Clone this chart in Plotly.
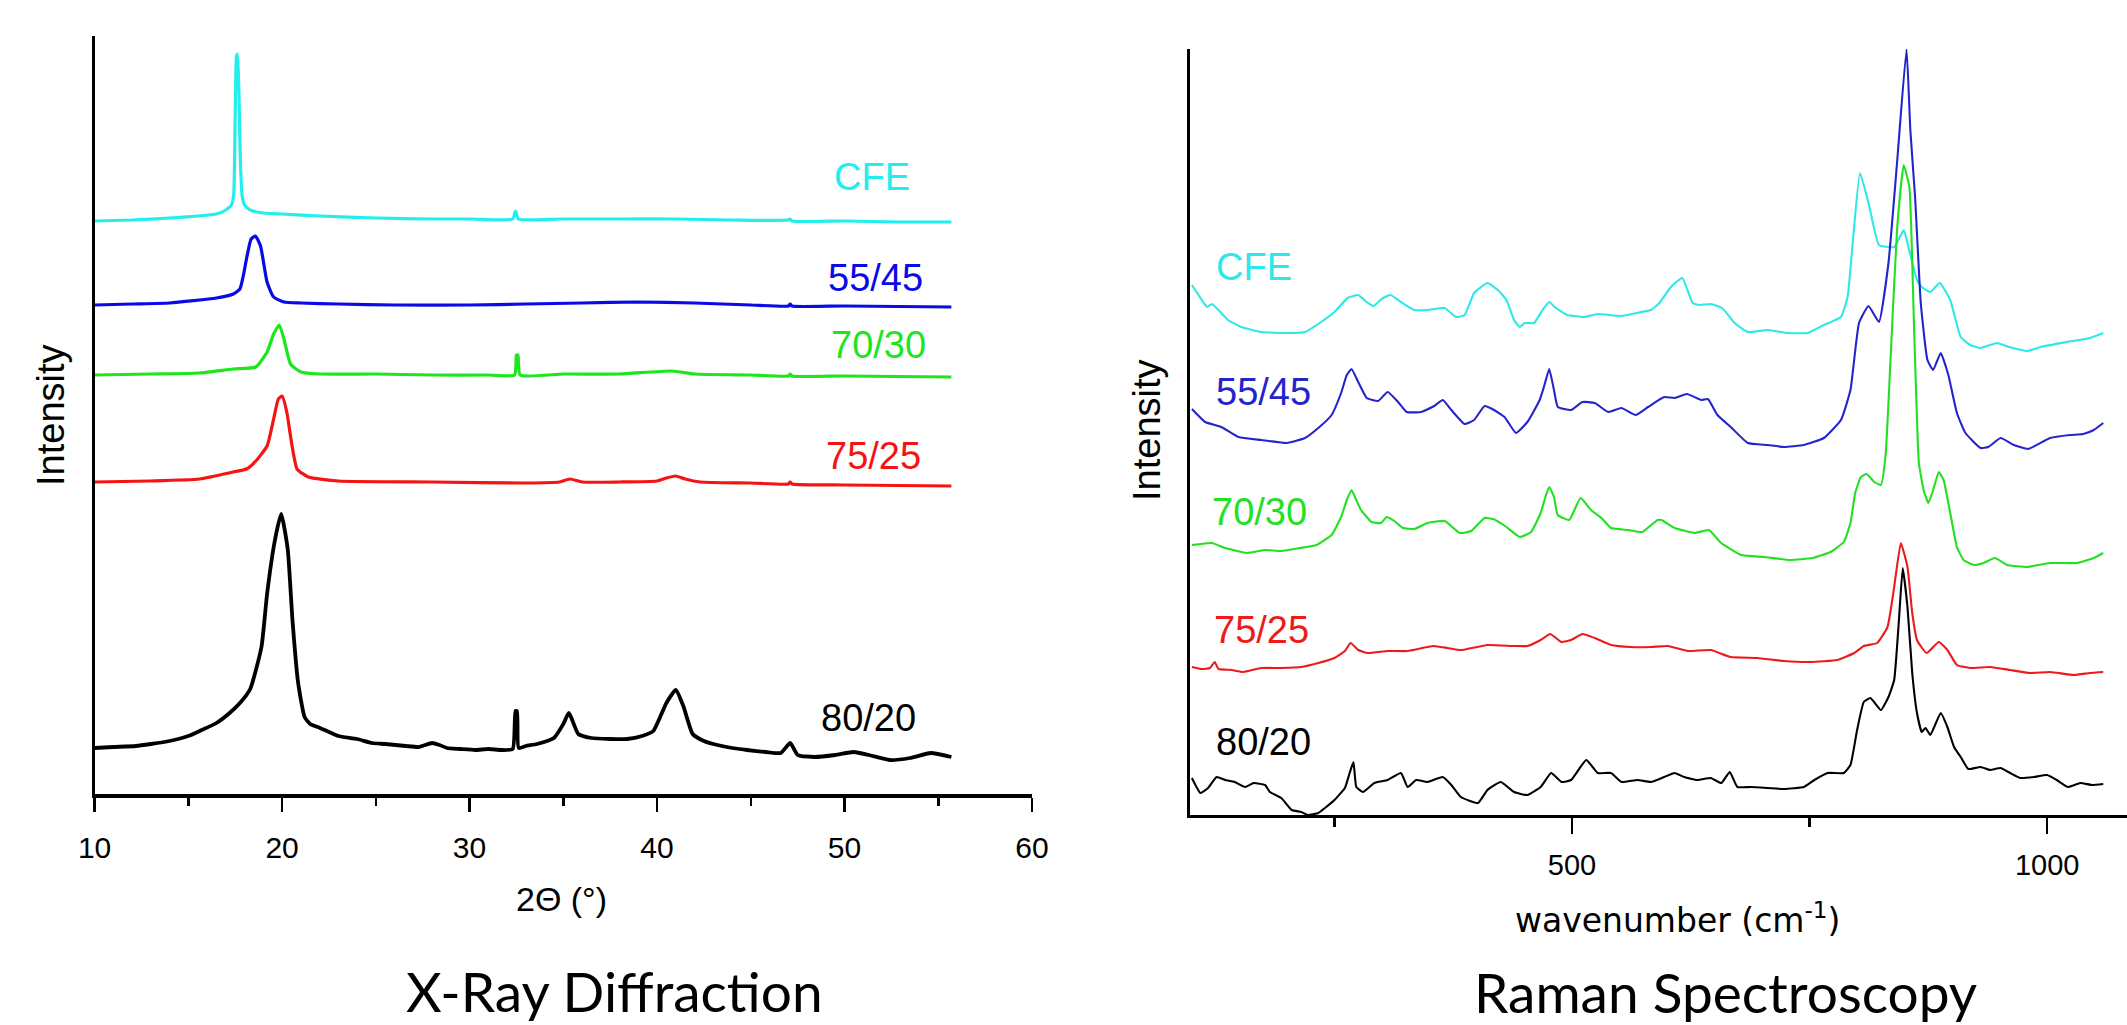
import plotly.graph_objects as go

# ---------------- X-Ray Diffraction data (2theta in degrees, intensity a.u. with offsets) ----------------
xrd_cfe_x = [10, 12, 14, 15.5, 16.5, 17.0, 17.3, 17.42, 17.5, 17.57, 17.62, 17.7, 17.78, 17.88, 18.0, 18.3, 19, 20, 22, 25, 28, 30,
             32.3, 32.45, 32.6, 35, 38, 41, 44, 47, 47.1, 47.2, 50, 53, 55.7]
xrd_cfe_y = [573, 574, 576, 578, 580, 584, 589, 600, 680, 738, 740, 700, 630, 597, 589, 584, 581, 580, 578, 576, 575, 575,
             575, 583, 575, 575, 575, 575, 574, 574, 575, 573, 573, 572, 572]

xrd_5545_x = [10, 12, 14, 16.5, 17.4, 17.75, 17.95, 18.1, 18.35, 18.58, 18.85, 19.2, 19.55, 20.1, 21, 23, 26, 30, 33, 36, 39, 42,
              45, 47, 47.1, 47.2, 50, 55.7]
xrd_5545_y = [489, 490, 491, 496, 500, 505, 520, 535, 555, 558, 548, 512, 497, 492, 491, 490, 489, 489, 490, 491, 492, 491,
              489, 488, 490, 488, 488, 487]

xrd_7030_x = [10, 13, 15.6, 17.4, 18.6, 19.2, 19.55, 19.85, 20.1, 20.45, 21, 22, 25, 28, 31, 32.4, 32.5, 32.58, 32.7, 35, 38,
              40.8, 42, 45, 47, 47.1, 47.2, 50, 55.7]
xrd_7030_y = [419, 420, 421, 425, 427, 442, 460, 469, 455, 430, 422, 420, 420, 419, 419, 419, 439, 439, 419, 420, 420,
              423, 420, 419, 418, 420, 418, 418, 417]

xrd_7525_x = [10, 13, 15.6, 17.4, 18.1, 18.6, 19.2, 19.55, 19.8, 20.0, 20.25, 20.5, 20.8, 21.4, 23, 28, 33, 34.8, 35.35, 36, 38,
              40, 40.5, 41.0, 41.5, 42.3, 45, 47, 47.1, 47.2, 50, 55.7]
xrd_7525_y = [312, 313, 315, 322, 325, 333, 348, 375, 395, 398, 382, 352, 325, 317, 313, 312, 311, 312, 315, 312, 312,
              313, 316, 318, 315, 312, 311, 310, 312, 310, 309, 308]

xrd_8020_x = [10, 11, 12.2, 13, 14, 15, 15.6, 16.5, 17.2, 17.8, 18.3, 18.9, 19.2, 19.6, 19.95, 20.3, 20.55, 20.85, 21.2, 21.5,
              21.9, 22.5, 23, 24, 24.8, 25.5, 26.6, 27.3, 28, 28.4, 28.8, 29.5, 30.3, 31, 31.7, 32.3, 32.45, 32.53, 32.62,
              33, 33.6, 34.5, 35.0, 35.3, 35.8, 36.5, 37.5, 38.4, 39.2, 39.8, 40.5, 41.0, 41.4, 41.9, 42.5, 43, 44, 44.8,
              45.8, 46.6, 47.1, 47.5, 48.4, 49.5, 50.5, 51.3, 52.4, 53.5, 54.6, 55.7]
xrd_8020_y = [46, 47, 48, 50, 53, 58, 63, 71, 81, 92, 105, 147, 200, 252, 280, 245, 175, 112, 77, 70,
              67, 62, 58, 55, 51, 50, 48, 47, 51, 49, 46, 45, 44, 45, 44, 45, 83, 83, 46,
              48, 50, 56, 70, 81, 60, 56, 55, 55, 58, 63, 91, 104, 88, 60, 53, 50, 46, 44,
              42, 41, 51, 39, 37, 39, 42, 39, 34, 36, 41, 37]

# ---------------- Raman data (wavenumber cm-1, intensity a.u. with offsets) ----------------
ram_cfe_x = [100, 107, 116, 121, 128, 138, 152, 173, 201, 219, 236, 250, 264, 275, 284, 291, 301, 309, 320, 334, 348, 366,
             378, 387, 397, 411, 422, 431, 439, 445, 450, 460, 469, 476, 483, 495, 513, 527, 552, 573, 583, 592, 604, 616,
             627, 634, 646, 658, 671, 685, 706, 727, 748, 765, 783, 790, 795, 803, 812, 823, 839, 849, 854, 863, 868, 877,
             887, 898, 909, 919, 930, 947, 960, 979, 993, 1021, 1045, 1059]
ram_cfe_y = [530, 520, 508, 511, 505, 495, 488, 483, 482, 483, 493, 503, 517, 520, 513, 509, 517, 520, 513, 505, 505, 507,
             498, 500, 522, 532, 525, 515, 495, 488, 492, 492, 505, 513, 507, 500, 498, 501, 499, 503, 505, 512, 528, 537,
             512, 510, 511, 507, 492, 483, 485, 482, 482, 490, 498, 518, 568, 642, 612, 570, 568, 585, 568, 535, 528, 523,
             532, 515, 478, 470, 467, 472, 468, 464, 468, 473, 477, 482]

ram_5545_x = [100, 114, 131, 149, 173, 200, 219, 233, 247, 257, 263, 268, 275, 284, 296, 306, 317, 326, 341, 355, 364, 373,
              387, 397, 408, 418, 429, 441, 453, 466, 471, 476, 481, 485, 499, 511, 524, 538, 552, 567, 580, 597, 608, 621,
              636, 643, 653, 667, 685, 706, 723, 744, 765, 783, 793, 802, 812, 823, 833, 842, 852, 856, 861, 867, 874, 880,
              888, 896, 905, 914, 930, 938, 951, 965, 980, 1003, 1024, 1038, 1049, 1059]
ram_5545_y = [406, 393, 388, 378, 375, 372, 377, 387, 400, 422, 440, 446, 433, 417, 414, 423, 413, 403, 403, 409, 415, 405,
              391, 395, 409, 405, 398, 382, 393, 415, 430, 446, 425, 408, 405, 413, 412, 403, 407, 400, 408, 418, 417, 421,
              415, 416, 400, 388, 372, 370, 368, 370, 377, 395, 425, 492, 509, 493, 552, 652, 766, 685, 618, 512, 455, 445,
              462, 440, 402, 382, 367, 368, 377, 370, 366, 377, 380, 381, 385, 392]

ram_7030_x = [100, 121, 135, 158, 177, 194, 214, 231, 247, 257, 263, 268, 273, 278, 289, 299, 305, 313, 322, 334, 348, 366,
              382, 394, 408, 417, 431, 445, 457, 467, 472, 476, 481, 485, 497, 509, 520, 531, 541, 559, 574, 590, 594, 608,
              629, 644, 657, 678, 702, 730, 753, 772, 786, 793, 798, 804, 810, 818, 825, 830, 835, 842, 849, 855, 860, 865,
              870, 875, 880, 886, 891, 898, 905, 912, 923, 933, 945, 958, 979, 1003, 1031, 1049, 1059]
ram_7030_y = [270, 272, 267, 262, 265, 264, 267, 270, 280, 298, 315, 325, 315, 305, 293, 292, 298, 294, 287, 286, 292, 294,
              282, 284, 297, 296, 288, 278, 283, 302, 318, 328, 318, 300, 295, 317, 305, 297, 287, 285, 283, 295, 295, 287,
              282, 285, 272, 260, 258, 255, 257, 263, 273, 292, 322, 338, 341, 333, 330, 360, 452, 585, 650, 628, 485, 352,
              325, 312, 325, 343, 335, 302, 268, 255, 250, 252, 257, 250, 248, 252, 252, 257, 262]

ram_7525_x = [100, 110, 119, 124, 128, 142, 154, 173, 194, 215, 233, 250, 261, 267, 275, 285, 306, 327, 354, 369, 383, 411,
              439, 453, 467, 477, 489, 499, 511, 524, 541, 562, 583, 601, 622, 646, 667, 695, 723, 751, 779, 797, 807, 821,
              832, 839, 846, 853, 858, 863, 873, 886, 895, 905, 919, 940, 961, 982, 1003, 1028, 1045, 1059]
ram_7525_y = [148, 146, 147, 153, 146, 145, 143, 147, 147, 148, 152, 157, 164, 172, 165, 162, 164, 164, 169, 167, 165, 170,
              169, 169, 175, 181, 173, 175, 181, 177, 170, 168, 168, 169, 164, 165, 158, 157, 154, 153, 155, 162, 169, 172,
              188, 228, 272, 248, 202, 175, 162, 173, 165, 150, 147, 148, 145, 142, 143, 140, 142, 143]

ram_8020_x = [100, 109, 117, 126, 135, 145, 156, 165, 177, 182, 194, 205, 215, 222, 233, 240, 250, 261, 266, 270, 273, 280,
              292, 306, 320, 327, 336, 348, 364, 373, 383, 401, 411, 425, 439, 453, 467, 478, 489, 499, 515, 527, 541, 552,
              569, 583, 597, 608, 618, 632, 646, 657, 666, 674, 688, 706, 723, 744, 755, 769, 786, 793, 800, 807, 814, 825,
              833, 839, 844, 848, 853, 858, 863, 868, 872, 877, 888, 895, 902, 909, 917, 930, 940, 951, 961, 972, 986, 1000,
              1010, 1022, 1035, 1047, 1059]
ram_8020_y = [37, 22, 27, 38, 35, 33, 28, 32, 30, 23, 17, 5, 3, 0, 2, 7, 15, 27, 42, 53, 28, 23,
              32, 35, 42, 28, 35, 33, 38, 30, 18, 12, 25, 33, 23, 20, 28, 42, 33, 35, 55, 42, 42, 33,
              35, 33, 38, 42, 38, 35, 37, 32, 43, 28, 28, 27, 26, 28, 35, 42, 42, 50, 85, 113, 117, 105,
              118, 135, 195, 247, 208, 142, 102, 83, 87, 80, 102, 88, 68, 58, 46, 48, 45, 47, 42, 37, 38, 40,
              35, 28, 32, 30, 31]

series_names = ["CFE", "55/45", "70/30", "75/25", "80/20"]
xrd_colors = ["#22EEEE", "#0A0AE6", "#1EE61E", "#F51414", "#000000"]
ram_colors = ["#2EE8E8", "#2424CC", "#22E022", "#EE1A1A", "#000000"]
xrd_widths = [3.2, 3.2, 3.2, 3.2, 3.8]
xrd_ticks = [10, 20, 30, 40, 50, 60]
ram_ticks = [500, 1000]

# label positions (data coords)
xrd_label_x = [51.45, 51.65, 51.8, 51.55, 51.3]
xrd_label_y = [617, 516, 449, 338, 76]
ram_label_x = [123, 123, 119, 121, 123]
ram_label_y = [548, 423, 303, 185, 73]

W, H = 2127, 1025
AR = "Liberation Sans, Arial, sans-serif"

fig = go.Figure()

xrd_sets = [(xrd_cfe_x, xrd_cfe_y), (xrd_5545_x, xrd_5545_y), (xrd_7030_x, xrd_7030_y),
            (xrd_7525_x, xrd_7525_y), (xrd_8020_x, xrd_8020_y)]
ram_sets = [(ram_cfe_x, ram_cfe_y), (ram_5545_x, ram_5545_y), (ram_7030_x, ram_7030_y),
            (ram_7525_x, ram_7525_y), (ram_8020_x, ram_8020_y)]

for name, (xs, ys), c, w in zip(series_names, xrd_sets, xrd_colors, xrd_widths):
    fig.add_trace(go.Scatter(x=xs, y=ys, mode="lines", name=name,
                             line=dict(color=c, width=w, shape="spline", smoothing=0.5),
                             xaxis="x", yaxis="y", showlegend=False))
for name, (xs, ys), c in zip(series_names, ram_sets, ram_colors):
    fig.add_trace(go.Scatter(x=xs, y=ys, mode="lines", name=name,
                             line=dict(color=c, width=2.1, shape="spline", smoothing=0.4),
                             xaxis="x2", yaxis="y2", showlegend=False))

annotations = []
for name, c, lx, ly in zip(series_names, xrd_colors, xrd_label_x, xrd_label_y):
    annotations.append(dict(x=lx, y=ly, xref="x", yref="y", text=name, showarrow=False,
                            xanchor="center", yanchor="middle", font=dict(family=AR, size=38, color=c)))
for name, c, lx, ly in zip(series_names, ram_colors, ram_label_x, ram_label_y):
    annotations.append(dict(x=lx, y=ly, xref="x2", yref="y2", text=name, showarrow=False,
                            xanchor="left", yanchor="middle", font=dict(family=AR, size=38, color=c)))


def px(x):
    return x / W


def py(y):
    return 1 - y / H


annotations += [
    dict(x=px(561), y=py(899), xref="paper", yref="paper", text="2Θ (°)", showarrow=False,
         xanchor="center", yanchor="middle", font=dict(family=AR, size=34, color="black")),
    dict(x=px(1677), y=py(918), xref="paper", yref="paper", text="wavenumber (cm<sup>-1</sup>)", showarrow=False,
         xanchor="center", yanchor="middle", font=dict(family="DejaVu Sans", size=33, color="black")),
    dict(x=px(51), y=py(415), xref="paper", yref="paper", text="Intensity", showarrow=False, textangle=-90,
         xanchor="center", yanchor="middle", font=dict(family=AR, size=38, color="black")),
    dict(x=px(1147), y=py(430), xref="paper", yref="paper", text="Intensity", showarrow=False, textangle=-90,
         xanchor="center", yanchor="middle", font=dict(family=AR, size=38, color="black")),
    dict(x=px(614), y=py(991), xref="paper", yref="paper", text="X-Ray Diffraction", showarrow=False,
         xanchor="center", yanchor="middle", font=dict(family="Lato", size=55, color="black")),
    dict(x=px(1725), y=py(992), xref="paper", yref="paper", text="Raman Spectroscopy", showarrow=False,
         xanchor="center", yanchor="middle", font=dict(family="Lato", size=55, color="black")),
]

axis_common = dict(showgrid=False, zeroline=False, showline=True, linecolor="black", automargin=False)

fig.update_layout(
    width=W, height=H,
    autosize=False,
    margin=dict(l=0, r=0, t=0, b=0, pad=0, autoexpand=False),
    paper_bgcolor="white", plot_bgcolor="white",
    showlegend=False,
    xaxis=dict(domain=[px(94.6), px(1032)], range=[10, 60], anchor="y", linewidth=3.5,
               tickmode="array", tickvals=xrd_ticks, ticks="outside", ticklen=14, tickwidth=2.5,
               tickcolor="black", ticklabelstandoff=10,
               minor=dict(dtick=5, tick0=10, ticks="outside", ticklen=8, tickwidth=2.5, tickcolor="black"),
               tickfont=dict(family=AR, size=30, color="black"), **axis_common),
    yaxis=dict(domain=[py(794), py(36)], range=[0, 758], anchor="x", linewidth=3,
               showticklabels=False, ticks="", **axis_common),
    xaxis2=dict(domain=[px(1190), 1.0], range=[98, 1084], anchor="y2", linewidth=3,
                tickmode="array", tickvals=ram_ticks, ticks="outside", ticklen=16, tickwidth=2.5,
                tickcolor="black", ticklabelstandoff=6,
                minor=dict(dtick=250, tick0=0, ticks="outside", ticklen=9, tickwidth=2.5, tickcolor="black"),
                tickfont=dict(family=AR, size=29, color="black"), **axis_common),
    yaxis2=dict(domain=[py(815), py(49)], range=[0, 766], anchor="x2", linewidth=3,
                showticklabels=False, ticks="", **axis_common),
    annotations=annotations,
)

fig.write_html("out.html",
               config={"displayModeBar": False, "staticPlot": True},
               post_script="document.body.style.margin='0';document.body.style.overflow='hidden';"
                           "document.documentElement.style.overflow='hidden';")
